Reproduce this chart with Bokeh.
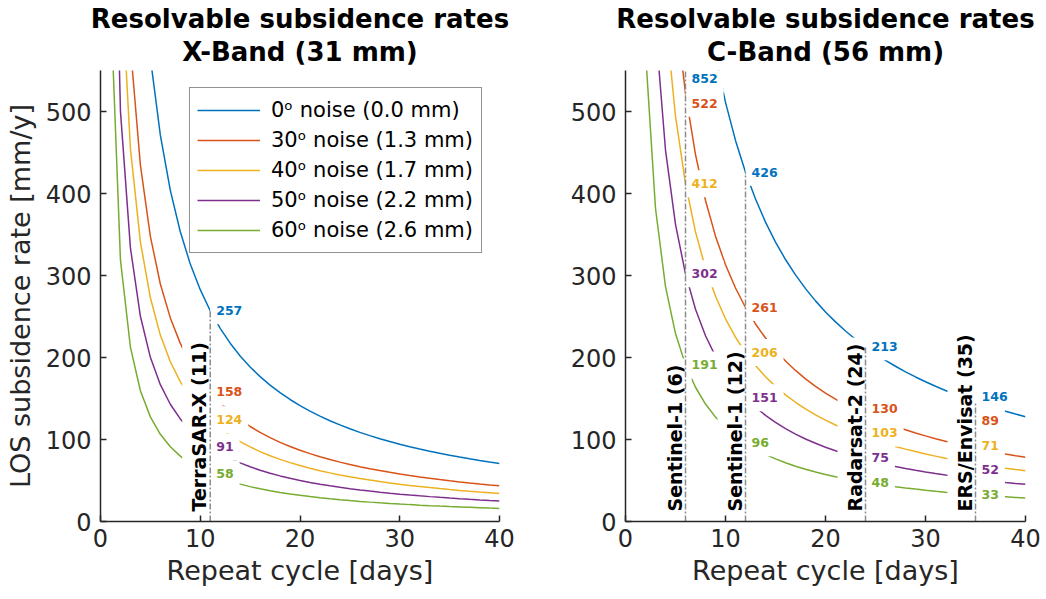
import numpy as np
from bokeh.plotting import figure
from bokeh.layouts import row
from bokeh.models import Legend, LegendItem, LinearAxis, FixedTicker, Range1d
from bokeh.embed import file_html
from bokeh.resources import INLINE
from bokeh.core.properties import value

# Repeat cycles sampled at whole days
days = np.arange(1, 41)

noise_labels = [
    "0ᵒ noise (0.0 mm)",
    "30ᵒ noise (1.3 mm)",
    "40ᵒ noise (1.7 mm)",
    "50ᵒ noise (2.2 mm)",
    "60ᵒ noise (2.6 mm)",
]
colors = ["#0072BD", "#D95319", "#EDB120", "#7E2F8E", "#77AC30"]

# X-Band (31 mm): resolvable rate [mm/y] at each sensor's repeat cycle
x_sensors = ["TerraSAR-X (11)"]
x_cycles = [11]
x_rates = [
    [257],
    [158],
    [124],
    [91],
    [58],
]

# C-Band (56 mm)
c_sensors = ["Sentinel-1 (6)", "Sentinel-1 (12)", "Radarsat-2 (24)", "ERS/Envisat (35)"]
c_cycles = [6, 12, 24, 35]
c_rates = [
    [852, 426, 213, 146],
    [522, 261, 130, 89],
    [412, 206, 103, 71],
    [302, 151, 75, 52],
    [191, 96, 48, 33],
]

x_ticks = [0, 10, 20, 30, 40]
y_ticks = [0, 100, 200, 300, 400, 500]

FONT = value("DejaVu Sans")
AXIS_COLOR = "#262626"
Y_MAX = 550
LABEL_GAP = 30
LABEL_TOP = 540
FRAME_H = 451


def spread(vals):
    """Vertical positions for value labels so they don't overlap."""
    order = np.argsort(vals)
    ys = np.array(vals, dtype=float)[order]
    for i in range(1, len(ys)):
        ys[i] = max(ys[i], ys[i - 1] + LABEL_GAP)
    ys[-1] = min(ys[-1], LABEL_TOP)
    for i in range(len(ys) - 2, -1, -1):
        ys[i] = min(ys[i], ys[i + 1] - LABEL_GAP)
    out = np.empty_like(ys)
    out[order] = ys
    return out


def heading_axis(text, standoff):
    """Tick-less axis above the frame, used as one line of the heading."""
    return LinearAxis(ticker=FixedTicker(ticks=[]), axis_label=text,
                      axis_label_standoff=standoff,
                      axis_label_text_font="DejaVu Sans", axis_label_text_font_size="26px",
                      axis_label_text_font_style="bold", axis_label_text_color="black",
                      axis_line_color=None, major_tick_line_color=None,
                      minor_tick_line_color=None, major_tick_in=0, major_tick_out=0,
                      minor_tick_in=0, minor_tick_out=0, major_label_standoff=0,
                      major_label_text_font_size="0px")


def make_panel(band, sensors, cycles, rates, border_left, border_right, frame_w, ylabel, legend):
    p = figure(
        frame_width=frame_w, frame_height=FRAME_H,
        min_border_left=border_left, min_border_right=border_right,
        min_border_top=70, min_border_bottom=78,
        x_range=Range1d(0, 40), y_range=Range1d(0, Y_MAX),
        output_backend="svg", toolbar_location=None, title=None,
        background_fill_color="white", border_fill_color="white",
    )
    p.outline_line_color = None
    p.xgrid.visible = False
    p.ygrid.visible = False

    xax = p.below[0]
    yax = p.left[0]
    xax.ticker = FixedTicker(ticks=x_ticks)
    yax.ticker = FixedTicker(ticks=y_ticks)
    xax.axis_label = "Repeat cycle [days]"
    if ylabel:
        yax.axis_label = ylabel
    for ax in (xax, yax):
        ax.axis_line_color = AXIS_COLOR
        ax.axis_line_width = 1.5
        ax.major_tick_line_color = AXIS_COLOR
        ax.major_tick_line_width = 1.5
        ax.major_tick_in = 6
        ax.major_tick_out = 0
        ax.minor_tick_in = 0
        ax.minor_tick_out = 0
        ax.major_label_text_font = "DejaVu Sans"
        ax.major_label_text_font_size = "24px"
        ax.major_label_text_color = AXIS_COLOR
        ax.axis_label_text_font = "DejaVu Sans"
        ax.axis_label_text_font_size = "27px"
        ax.axis_label_text_font_style = "normal"
        ax.axis_label_text_color = AXIS_COLOR
    yax.major_label_standoff = 9
    xax.major_label_standoff = 7
    yax.axis_label_standoff = 7
    xax.axis_label_standoff = 5

    # two-line heading: band line next to the frame, general line above it
    p.add_layout(heading_axis(band, 4), "above")
    p.add_layout(heading_axis("Resolvable subsidence rates", 0), "above")

    # resolvable-rate curves: rate scales with 1 / repeat cycle
    renderers = []
    for k, col in enumerate(colors):
        curve = rates[k][0] * cycles[0] / days
        r = p.line(days, curve, line_color=col, line_width=1.5)
        renderers.append(r)

    # sensor names, vertical, just left of each sensor's repeat cycle
    p.text(x=cycles, y=[0] * len(cycles), text=sensors, angle=np.pi / 2,
           text_align="left", text_baseline="bottom", x_offset=6, y_offset=-4,
           text_font=FONT, text_font_style="bold", text_font_size="19px",
           text_color="black", background_fill_color="white", padding=6)

    # rate values at each sensor
    for j, c in enumerate(cycles):
        vals = [rates[k][j] for k in range(len(colors))]
        ys = spread(vals)
        p.text(x=[c] * len(vals), y=ys, text=[str(v) for v in vals], text_color=colors,
               x_offset=0, text_align="left", text_baseline="middle",
               text_font=FONT, text_font_style="bold", text_font_size="12.5px",
               background_fill_color="white", padding=dict(x=6, y=9))

    # dash-dot markers at each sensor's repeat cycle
    p.segment(x0=cycles, y0=[0] * len(cycles), x1=cycles, y1=rates[0],
              line_color="#8c8c8c", line_width=1.5, line_dash="6 2 2 2")

    if legend:
        items = [LegendItem(label=lab, renderers=[r]) for lab, r in zip(noise_labels, renderers)]
        leg = Legend(items=items, location=(89, 268),
                     label_text_font="DejaVu Sans", label_text_font_size="21px",
                     label_text_color="black", glyph_width=63, glyph_height=30,
                     label_height=30, label_width=203, spacing=0, padding=7,
                     label_standoff=11, margin=0,
                     border_line_color=AXIS_COLOR, border_line_width=1.5,
                     background_fill_color="white", background_fill_alpha=1.0)
        p.add_layout(leg)
    return p


p1 = make_panel("X-Band (31 mm)", x_sensors, x_cycles, x_rates, 100, 26, 399,
                "LOS subsidence rate [mm/y]", True)
p2 = make_panel("C-Band (56 mm)", c_sensors, c_cycles, c_rates, 100, 21, 400,
                None, False)

layout = row(p1, p2)
open("out.html", "w").write(file_html(layout, INLINE))
